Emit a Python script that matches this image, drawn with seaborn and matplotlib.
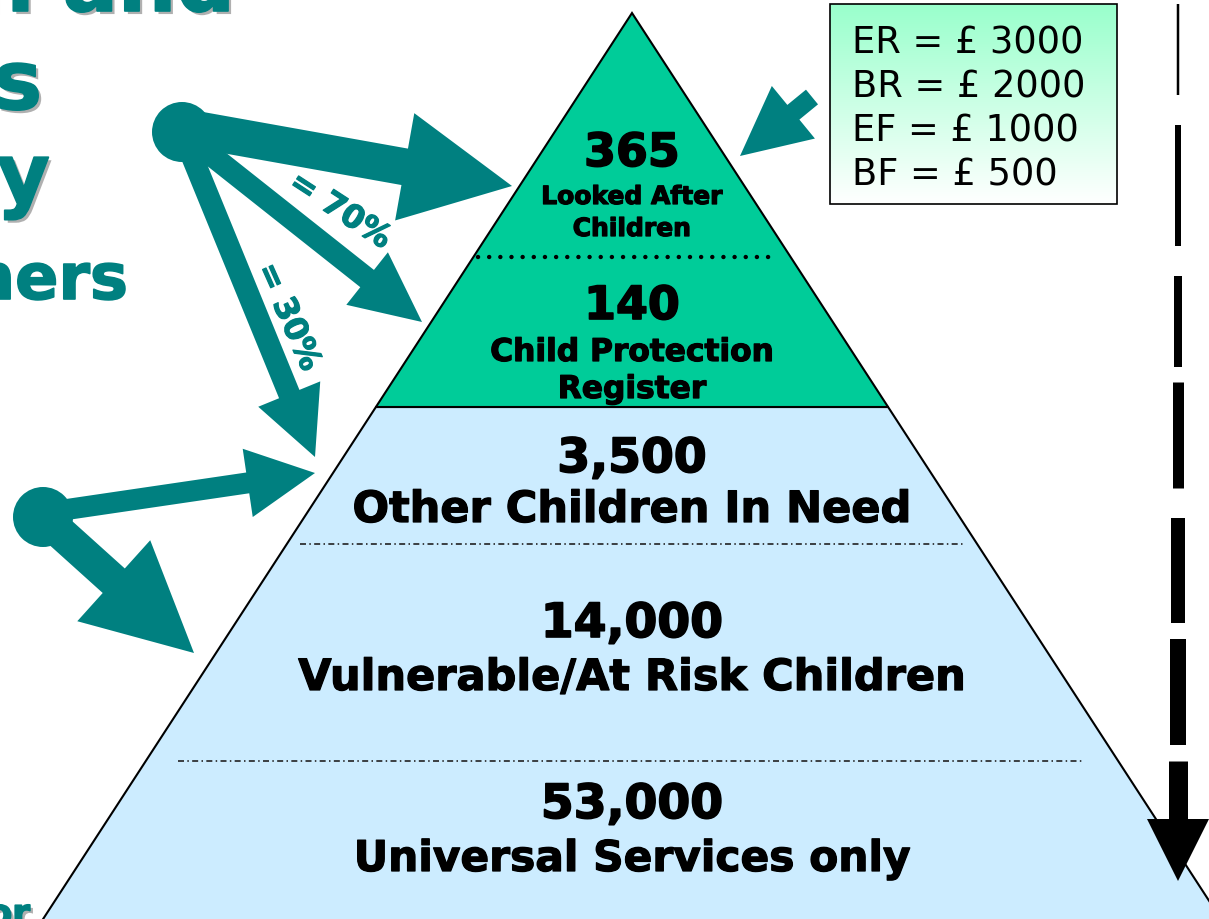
import numpy as np
import matplotlib
matplotlib.use("Agg")
import matplotlib.pyplot as plt
import matplotlib.patheffects as pe
from matplotlib.patches import Polygon, Circle, Rectangle, FancyArrow
import seaborn as sns

# --- data ---
tier_counts = [365, 140, 3500, 14000, 53000]
tier_labels = [
    "Looked After\nChildren",
    "Child Protection\nRegister",
    "Other Children In Need",
    "Vulnerable/At Risk Children",
    "Universal Services only",
]
cost_codes = ["ER", "BR", "EF", "BF"]
cost_values = [3000, 2000, 1000, 500]
split_pct = [70, 30]

# --- look ---
TEAL = "#008080"
GREEN = "#00CC99"
BLUE = "#CCECFF"

sns.set_theme(style="white")
plt.rcParams["font.family"] = ["DejaVu Sans"]

W, H = 1209, 920
fig = plt.figure(figsize=(W / 100, H / 100), dpi=100)
ax = fig.add_axes([0, 0, 1, 1])

# heavier strokes so DejaVu Bold looks closer to the slide's Verdana Bold
heavy = lambda c, w=0.9: [pe.withStroke(linewidth=w, foreground=c)]

# pyramid, in pixel units (y down)
apex_x, apex_y, half_slope = 632, 14, 0.65
edge_l = lambda y: apex_x - half_slope * (y - apex_y)
edge_r = lambda y: apex_x + half_slope * (y - apex_y)
split_y = 408
ax.add_patch(Polygon([(edge_l(split_y), split_y), (edge_r(split_y), split_y),
                      (edge_r(935), 935), (edge_l(935), 935)],
                     closed=True, fc=BLUE, ec="black", lw=1.5, zorder=1))
ax.add_patch(Polygon([(apex_x, apex_y), (edge_r(split_y), split_y), (edge_l(split_y), split_y)],
                     closed=True, fc=GREEN, ec="black", lw=1.5, zorder=1.5))

# separators inside the pyramid
ax.plot([478, 775], [258, 258], color="black", lw=3.2, linestyle=(0, (0.01, 2.5)),
        dash_capstyle="round", zorder=2)
for y, x0, x1 in [(545, 300, 965), (762, 178, 1083)]:
    ax.plot([x0, x1], [y, y], color="#222222", lw=1.2, linestyle=(0, (3.6, 2.0, 0.9, 2.0)), zorder=2)

# tier text: (number baseline, number size, label baselines, label size)
tier_layout = [
    (167, 33, [205, 237], 18),
    (320, 33, [362, 399], 22.5),
    (473, 34, [523], 31),
    (638, 34, [691], 31),
    (819, 34, [872], 30.5),
]
for count, label, (ny, ns, lys, ls) in zip(tier_counts, tier_labels, tier_layout):
    ax.text(apex_x, ny, f"{count:,}", ha="center", va="baseline", fontsize=ns,
            fontweight="bold", color="black", path_effects=heavy("black", 1.2), zorder=3)
    for line, ly in zip(label.split("\n"), lys):
        ax.text(apex_x, ly, line, ha="center", va="baseline", fontsize=ls,
                fontweight="bold", color="black", path_effects=heavy("black"), zorder=3)

# cost key with a green-to-white gradient
grad = np.linspace(0, 1, 200)[:, None, None]
top = np.array([0x99, 0xFF, 0xCC]) / 255
img = top * (1 - grad) + np.ones(3) * grad
ax.imshow(img, extent=(830, 1117, 205, 5), origin="upper", aspect="auto", zorder=4)
ax.add_patch(Rectangle((830, 5), 287, 200, fc="none", ec="black", lw=1.2, zorder=5))
for code, val, by in zip(cost_codes, cost_values, [53, 98, 142, 185]):
    ax.text(852, by, f"{code} = £ {val}", ha="left", va="baseline", fontsize=26.5,
            color="black", zorder=5)

# teal arrows: (tail, tip, shaft width, head width, head length)
arrows = [
    ((182, 128), (512, 187), 37, 109, 109),
    ((182, 133), (422, 323), 22, 67, 70),
    ((182, 133), (315, 458), 22, 67, 68),
    ((43, 514), (315, 474), 21, 69, 68),
    ((43, 518), (194, 654), 33, 109, 108),
    ((812, 98), (740, 157), 19, 68, 69),
]
for (tx, ty), (hx, hy), sw, hw, hl in arrows:
    ax.add_patch(FancyArrow(tx, ty, hx - tx, hy - ty, width=sw, head_width=hw,
                            head_length=hl, length_includes_head=True,
                            fc=TEAL, ec="none", zorder=4))
for cx, cy in [(182, 133), (43, 518)]:
    ax.add_patch(Circle((cx, cy), 30, fc=TEAL, ec="none", zorder=4))

for pct, (x, y, rot) in zip(split_pct, [(340, 212, -33), (288, 318, -66)]):
    ax.text(x, y, f"= {pct}%", ha="center", va="center", rotation=rot,
            rotation_mode="anchor", fontsize=23, fontweight="bold", color=TEAL,
            path_effects=heavy(TEAL), zorder=5)

# fragments of the slide title, cut by the left edge
shadow = [pe.SimplePatchShadow(offset=(2.2, -2.2), shadow_rgbFace="#b0b0b0", alpha=1),
          pe.withStroke(linewidth=1.2, foreground=TEAL)]
for txt, x, y, size, eff in [("n and", 235, 12, 59, shadow), ("s", 42, 110, 59, shadow),
                              ("y", 50, 203, 59, shadow), ("ners", 128, 300, 46, heavy(TEAL, 1.2)),
                              ("or", 30, 926, 26, shadow)]:
    ax.text(x, y, txt, ha="right", va="baseline", fontsize=size, fontweight="bold",
            color=TEAL, path_effects=eff, zorder=5)

# dashed black arrow on the right, getting heavier downwards
for y0, y1, wpx in [(5, 96, 2.5), (126, 247, 6), (277, 368, 8), (383, 489, 11),
                    (519, 624, 14), (640, 746, 16), (762, 821, 19)]:
    ax.plot([1178, 1178], [y0, y1], color="black", lw=wpx * 0.72,
            solid_capstyle="butt", zorder=6)
ax.add_patch(Polygon([(1147, 820), (1209, 820), (1178, 882)], closed=True,
                     fc="black", ec="none", zorder=6))

ax.set_xlim(0, W)
ax.set_ylim(H, 0)
ax.axis("off")
fig.savefig("out.png", dpi=100, facecolor="white")
